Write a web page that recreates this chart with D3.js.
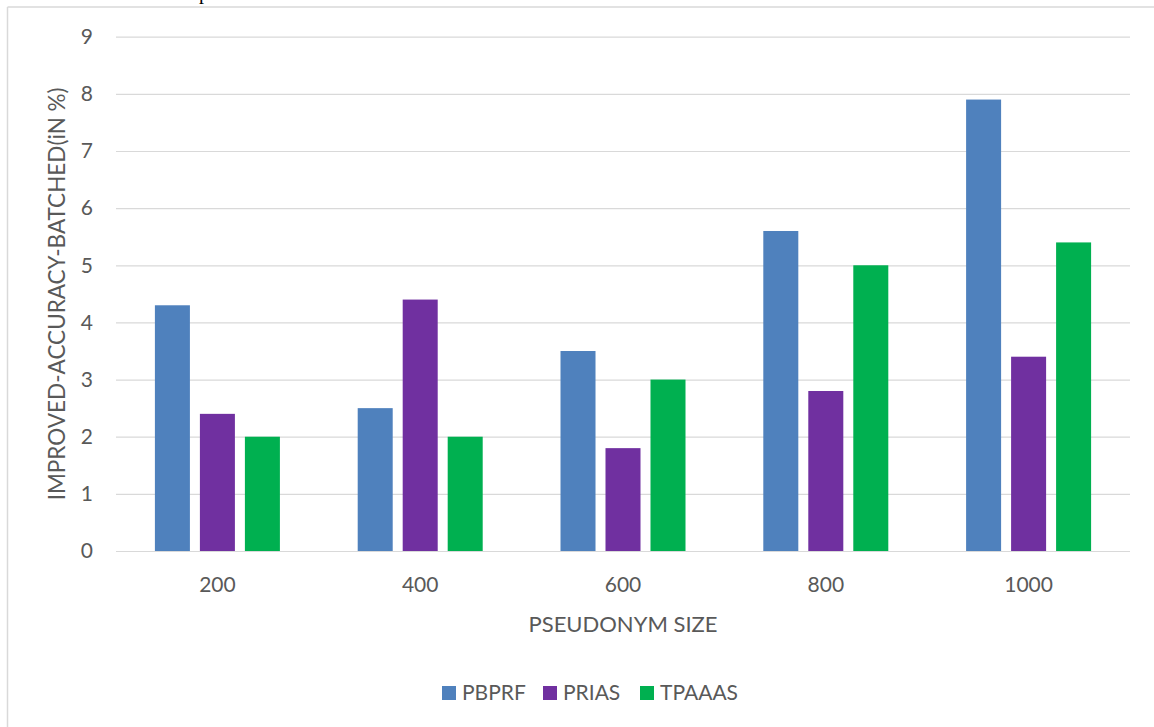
<!DOCTYPE html>
<html>
<head>
<meta charset="utf-8">
<script src="https://cdn.jsdelivr.net/npm/d3@7/dist/d3.min.js"></script>
<style>
  html, body { margin: 0; padding: 0; background: #fff; }
  svg { display: block; }
  text { font-family: Lato, "Open Sans", "Liberation Sans", sans-serif; fill: #595959; }
</style>
</head>
<body>
<svg id="chart" width="1154" height="727"></svg>
<script>
// Pseudonym sizes on the x axis
const categories = ["200", "400", "600", "800", "1000"];
// Series names, in legend order
const seriesNames = ["PBPRF", "PRIAS", "TPAAAS"];
// Improved accuracy (batched), in %
const pbprf  = [4.3, 2.5, 3.5, 5.6, 7.9];
const prias  = [2.4, 4.4, 1.8, 2.8, 3.4];
const tpaaas = [2.0, 2.0, 3.0, 5.0, 5.4];
// Y axis tick values
const yTicks = [0, 1, 2, 3, 4, 5, 6, 7, 8, 9];

const seriesValues = [pbprf, prias, tpaaas];
const colors = ["#4f81bd", "#7030a0", "#00b050"];

const svg = d3.select("#chart");

// Chart frame (partially cropped)
svg.append("line").attr("x1", 7.5).attr("x2", 7.5).attr("y1", 7).attr("y2", 727)
  .attr("stroke", "#d9d9d9").attr("stroke-width", 1.5);
svg.append("line").attr("x1", 7.5).attr("x2", 1154).attr("y1", 7).attr("y2", 7)
  .attr("stroke", "#d9d9d9").attr("stroke-width", 1.5);

// Caption fragment above the frame
svg.append("text").attr("x", 199).attr("y", -1)
  .style("font-family", "'Liberation Serif', serif").style("font-size", "20px").style("fill", "#000")
  .text("p");

const plot = { left: 116, right: 1130, top: 36.7, bottom: 551 };

const x0 = d3.scaleBand().domain(categories).range([plot.left, plot.right]).padding(0);
const x1 = d3.scaleBand().domain(seriesNames).range([-62.5, 62.5]).paddingInner(0.222).paddingOuter(0);
const y = d3.scaleLinear().domain([0, 9]).range([plot.bottom, plot.top]);

// Horizontal gridlines and y tick labels
const yAxis = d3.axisLeft(y).tickValues(yTicks).tickSize(-(plot.right - plot.left)).tickPadding(23).tickFormat(d3.format("d"));
const gy = svg.append("g").attr("transform", `translate(${plot.left},0)`).call(yAxis);
gy.select(".domain").remove();
gy.selectAll(".tick line").attr("stroke", "#d9d9d9").attr("stroke-width", 1.2);
gy.selectAll(".tick text").style("font-size", "21px").style("fill", "#595959")
  .style("font-family", "Lato, sans-serif");

// Bars
const groups = svg.append("g").selectAll("g")
  .data(categories)
  .join("g")
  .attr("transform", d => `translate(${x0(d) + x0.bandwidth() / 2},0)`);

groups.selectAll("rect")
  .data((c, i) => seriesNames.map((s, k) => ({ s, k, v: seriesValues[k][i] })))
  .join("rect")
  .attr("x", d => x1(d.s))
  .attr("width", x1.bandwidth())
  .attr("y", d => y(d.v))
  .attr("height", d => y(0) - y(d.v))
  .attr("fill", d => colors[d.k]);

// X tick labels
const xAxis = d3.axisBottom(x0).tickSize(0).tickPadding(26);
const gx = svg.append("g").attr("transform", `translate(0,${plot.bottom})`).call(xAxis);
gx.select(".domain").remove();
gx.selectAll(".tick text").style("font-size", "21px").style("fill", "#595959")
  .style("font-family", "Lato, sans-serif");

// Axis titles
svg.append("text").attr("x", (plot.left + plot.right) / 2).attr("y", 632)
  .attr("text-anchor", "middle").style("font-size", "22px").text("PSEUDONYM SIZE");
svg.append("text").attr("transform", `translate(65,${(plot.top + plot.bottom) / 2}) rotate(-90)`)
  .attr("text-anchor", "middle").style("font-size", "22.5px").text("IMPROVED-ACCURACY-BATCHED(iN %)");

// Legend
const legendX = [442, 543, 640];
const legend = svg.append("g").selectAll("g")
  .data(seriesNames)
  .join("g")
  .attr("transform", (d, i) => `translate(${legendX[i]},686)`);
legend.append("rect").attr("width", 14).attr("height", 14).attr("fill", (d, i) => colors[i]);
legend.append("text").attr("x", 20).attr("y", 14).style("font-size", "21px").text(d => d);
</script>
</body>
</html>
